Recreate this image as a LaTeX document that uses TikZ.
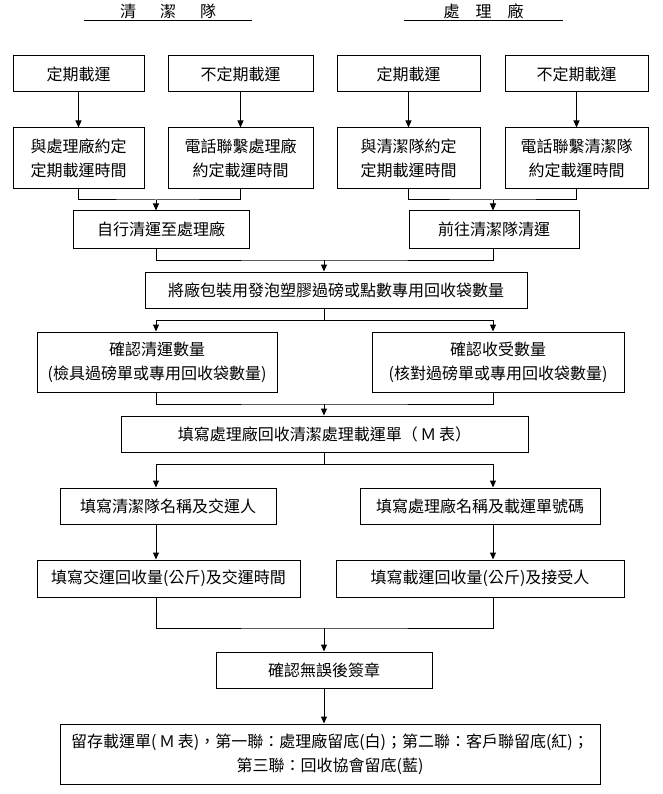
\documentclass[tikz,border=0pt]{standalone}
\usepackage{fontspec}
\setmainfont{Noto Sans CJK TC}
\usetikzlibrary{arrows.meta}

\tikzset{
  box/.style={draw, line width=1pt, inner sep=2pt, align=center,
    font=\fontsize{16pt}{24pt}\selectfont},
  head/.style={inner xsep=0pt, inner ysep=2pt, anchor=south,
    font=\fontsize{16pt}{20pt}\selectfont},
  wire/.style={line width=1pt},
  arr/.style={line width=1pt, -{Triangle[length=7pt,width=6pt]}}
}

\begin{document}
\begin{tikzpicture}[x=1pt,y=-1pt]
        \useasboundingbox (0,0) rectangle (662,794);
        % Headings
        \node[head, minimum width=168] (hL) at (168,21) {清\hspace{1.5em}潔\hspace{1.5em}隊};
        \node[head, minimum width=159] (hR) at (483.5,21) {處\hspace{1em}理\hspace{1em}廠};
        \draw[wire] (hL.south west) -- (hL.south east);
        \draw[wire] (hR.south west) -- (hR.south east);
        % Top row
        \node[box, minimum width=131, minimum height=36] (L1a) at (78.5,74) {定期載運};
        \node[box, minimum width=145, minimum height=36] (L1b) at (240.5,74) {不定期載運};
        \node[box, minimum width=143, minimum height=36] (R1a) at (408.5,74) {定期載運};
        \node[box, minimum width=143, minimum height=36] (R1b) at (576.5,74) {不定期載運};
        % Second row
        \node[box, minimum width=131, minimum height=61] (L2a) at (78.5,158.5) {與處理廠約定\\定期載運時間};
        \node[box, minimum width=145, minimum height=61] (L2b) at (240.5,158.5) {電話聯繫處理廠\\約定載運時間};
        \node[box, minimum width=143, minimum height=61] (R2a) at (408.5,158.5) {與清潔隊約定\\定期載運時間};
        \node[box, minimum width=143, minimum height=61] (R2b) at (576.5,158.5) {電話聯繫清潔隊\\約定載運時間};
        % Third row
        \node[box, minimum width=176, minimum height=37] (L3) at (161,229.5) {自行清運至處理廠};
        \node[box, minimum width=170, minimum height=37] (R3) at (494,229.5) {前往清潔隊清運};
        % Middle
        \node[box, minimum width=382, minimum height=36] (M1) at (336,290) {將廠包裝用發泡塑膠過磅或點數專用回收袋數量};
        \node[box, minimum width=240, minimum height=60] (C1) at (157,362) {確認清運數量\\(檢具過磅單或專用回收袋數量)};
        \node[box, minimum width=252, minimum height=60] (C2) at (498,362) {確認收受數量\\(核對過磅單或專用回收袋數量)};
        \node[box, minimum width=407, minimum height=36] (M2) at (324.5,434) {填寫處理廠回收清潔處理載運單（\,Ｍ\,表）};
        \node[box, minimum width=216, minimum height=36] (F1) at (168,506) {填寫清潔隊名稱及交運人};
        \node[box, minimum width=240, minimum height=36] (F2) at (480,506) {填寫處理廠名稱及載運單號碼};
        \node[box, minimum width=263, minimum height=37] (G1) at (168.5,578.5) {填寫交運回收量(公斤)及交運時間};
        \node[box, minimum width=288, minimum height=37] (G2) at (480,578.5) {填寫載運回收量(公斤)及接受人};
        % Bottom
        \node[box, minimum width=216, minimum height=36] (S) at (324,670) {確認無誤後簽章};
        \node[box, minimum width=540, minimum height=60] (K) at (330,754) {留存載運單(\,Ｍ\,表)，第一聯：處理廠留底(白)；第二聯：客戶聯留底(紅)；\\第三聯：回收協會留底(藍)};
        % Joins
        \coordinate (jL) at (156,200);
        \coordinate (jR) at (493,200);
        \coordinate (m1) at (324,260);
        \coordinate (s1) at (324,320);
        \coordinate (m2) at (324,404);
        \coordinate (s2) at (324,464);
        \coordinate (m3) at (324,628);
        % Connectors
        \draw[arr] (L1a) -- (L2a);
        \draw[arr] (L1b) -- (L2b);
        \draw[arr] (R1a) -- (R2a);
        \draw[arr] (R1b) -- (R2b);
        \draw[wire] (L2a.south) |- (jL) -| (L2b.south);
        \draw[wire] (R2a.south) |- (jR) -| (R2b.south);
        \draw[arr] (jL) -- (L3.north -| jL);
        \draw[arr] (jR) -- (R3.north -| jR);
        \draw[wire] (L3.south -| jL) |- (m1) -| (R3.south -| jR);
        \draw[arr] (m1) -- (M1.north -| m1);
        \draw[wire] (M1.south -| s1) -- (s1);
        \draw[arr] (s1) -| (C1.north -| jL);
        \draw[arr] (s1) -| (C2.north -| jR);
        \draw[wire] (C1.south -| jL) |- (m2) -| (C2.south -| jR);
        \draw[arr] (m2) -- (M2.north -| m2);
        \draw[wire] (M2.south -| s2) -- (s2);
        \draw[arr] (s2) -| (F1.north -| jL);
        \draw[arr] (s2) -| (F2.north -| jR);
        \draw[arr] (F1.south -| jL) -- (G1.north -| jL);
        \draw[arr] (F2.south -| jR) -- (G2.north -| jR);
        \draw[wire] (G1.south -| jL) |- (m3) -| (G2.south -| jR);
        \draw[arr] (m3) -- (S.north -| m3);
        \draw[arr] (S.south -| m3) -- (K.north -| m3);
\end{tikzpicture}
\end{document}
